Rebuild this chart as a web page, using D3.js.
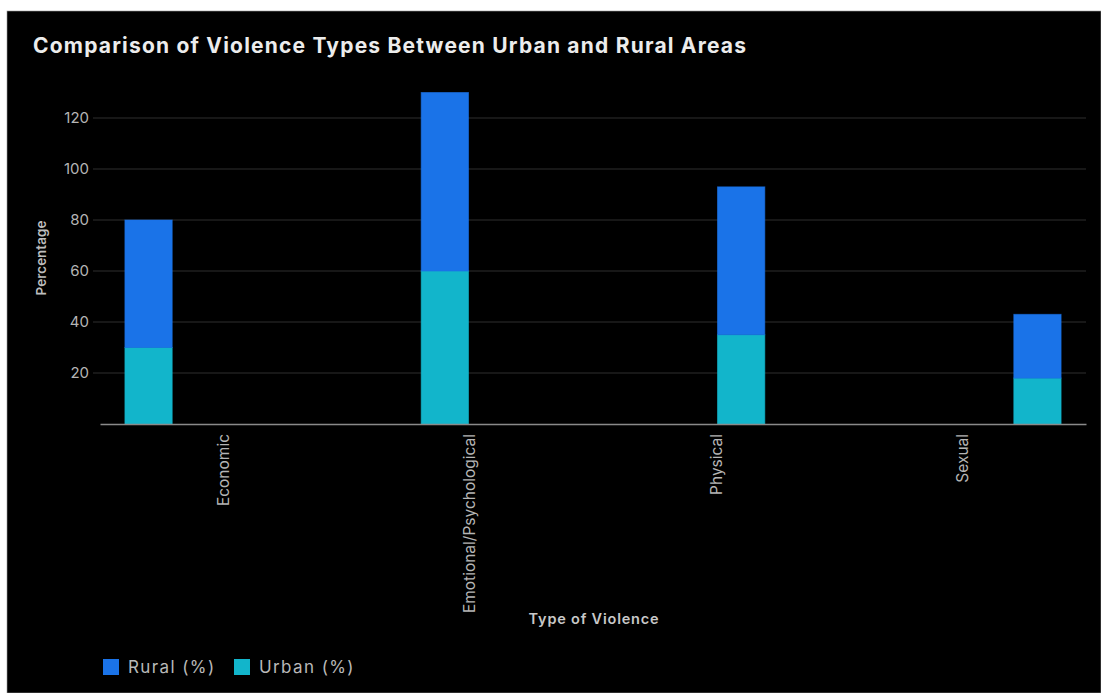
<!DOCTYPE html>
<html lang="en">
<head>
<meta charset="utf-8" />
<script src="https://cdn.jsdelivr.net/npm/d3@7"></script>
<style>
  body { margin: 0; background: #fff; }
  svg { display: block; font-family: Inter, sans-serif; }
</style>
</head>
<body>
<div id="chart"></div>
<script>
// data
var categories = ["Economic", "Emotional/Psychological", "Physical", "Sexual"];
var urban = [30, 60, 35, 18];
var rural = [50, 70, 58, 25];
var yTicks = [20, 40, 60, 80, 100, 120];
var legendLabels = ["Rural (%)", "Urban (%)"];

var width = 1101, height = 693;
var colors = { rural: "#1a73e8", urban: "#12b5cb" };

var svg = d3.select("#chart").append("svg")
  .attr("width", width)
  .attr("height", height);

// black panel, white strip on top/left
svg.append("rect").attr("width", width).attr("height", height).attr("fill", "#fff");
svg.append("rect").attr("x", 7).attr("y", 11).attr("width", width - 7).attr("height", height - 11)
  .attr("fill", "#000").attr("stroke", "#999").attr("stroke-width", 0.6);

svg.append("text")
  .attr("x", 33).attr("y", 53)
  .attr("fill", "#ececec")
  .style("font-weight", 700)
  .style("font-size", "21px")
  .style("letter-spacing", "1.2px")
  .text("Comparison of Violence Types Between Urban and Rural Areas");

var rows = categories.map(function(c, i) {
  return { cat: c, urban: urban[i], rural: rural[i] };
});

var x = d3.scaleBand().domain(categories).range([100, 1086]).padding(0);
// each category sits in its own slot inside the band
var xOff = d3.scaleBand().domain(categories).range([0, x.bandwidth()])
  .paddingInner(0.05).paddingOuter(0.5);
var y = d3.scaleLinear().domain([0, 120]).range([424, 118]);

// grid
svg.append("g").selectAll("line")
  .data(yTicks).enter().append("line")
  .attr("x1", 93).attr("x2", 1086)
  .attr("y1", function(d) { return y(d); })
  .attr("y2", function(d) { return y(d); })
  .attr("stroke", "#2e2e2e").attr("stroke-width", 1);

var yAxis = svg.append("g")
  .attr("transform", "translate(93,0)")
  .call(d3.axisLeft(y).tickValues(yTicks).tickSize(0).tickPadding(4));
yAxis.select(".domain").remove();
yAxis.selectAll("text")
  .attr("fill", "#b5b5b5")
  .style("font-size", "15px")
  .style("font-family", "Inter, sans-serif");

var stack = d3.stack().keys(["urban", "rural"]);
var series = stack(rows);

svg.append("g").selectAll("g")
  .data(series).enter().append("g")
  .attr("fill", function(s) { return colors[s.key]; })
  .selectAll("rect")
  .data(function(s) { return s; }).enter().append("rect")
  .attr("x", function(d) { return x(d.data.cat) + xOff(d.data.cat); })
  .attr("width", xOff.bandwidth())
  .attr("y", function(d) { return y(d[1]); })
  .attr("height", function(d) { return y(d[0]) - y(d[1]); })
  .attr("stroke", function() { return d3.select(this.parentNode).attr("fill"); })
  .attr("stroke-opacity", 0.6);

// baseline + category labels
var xAxis = svg.append("g")
  .attr("transform", "translate(0," + y(0) + ")")
  .call(d3.axisBottom(x).tickSize(0).tickPadding(0));
xAxis.select(".domain").attr("stroke", "#8a8a8a").attr("stroke-width", 1.5);
xAxis.selectAll("text")
  .attr("fill", "#b5b5b5")
  .style("font-size", "15.5px")
  .style("font-family", "Inter, sans-serif")
  .attr("text-anchor", "end")
  .attr("dy", "0.35em")
  .attr("transform", "translate(0,10) rotate(-90)");

svg.append("text")
  .attr("transform", "translate(46,258) rotate(-90)")
  .attr("text-anchor", "middle")
  .attr("fill", "#bdbdbd")
  .style("font-weight", 600)
  .style("font-size", "13.5px")
  .text("Percentage");

svg.append("text")
  .attr("x", 594).attr("y", 624)
  .attr("text-anchor", "middle")
  .attr("fill", "#c8c8c8")
  .style("font-weight", 600)
  .style("font-size", "14.5px")
  .style("letter-spacing", "0.8px")
  .text("Type of Violence");

// legend
var legendX = [103, 234];
var legend = svg.selectAll(".legend")
  .data(legendLabels).enter().append("g")
  .attr("class", "legend")
  .attr("transform", function(d, i) { return "translate(" + legendX[i] + ",659)"; });
legend.append("rect")
  .attr("width", 16).attr("height", 16)
  .attr("fill", function(d, i) { return i === 0 ? colors.rural : colors.urban; });
legend.append("text")
  .attr("x", 25).attr("y", 14)
  .attr("fill", "#b8b8b8")
  .style("font-size", "17px")
  .style("letter-spacing", "1.4px")
  .text(function(d) { return d; });
</script>
</body>
</html>
